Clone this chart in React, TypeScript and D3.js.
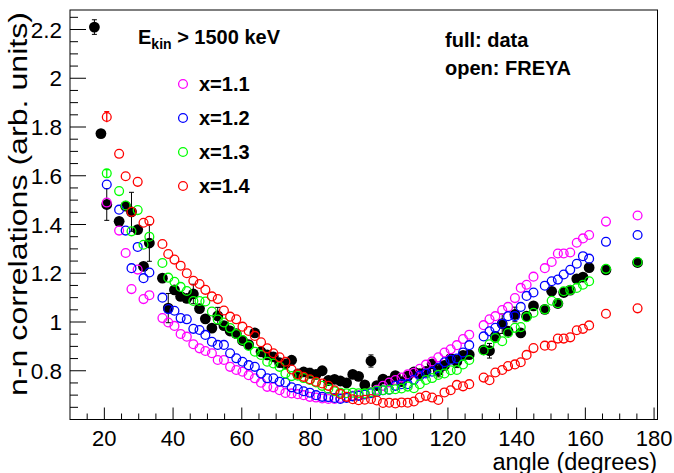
import React from 'react';
import * as d3 from 'd3';

// ---------- data ----------
const ANGLES = [
  20.7, 24.3, 26.2, 27.9, 29.7, 31.4, 33.1,
  36.9, 38.6, 40.4, 42.2, 44.0, 45.9, 47.7, 49.4, 51.3, 53.0,
  54.8, 56.6, 58.4, 60.2, 62.0, 63.8, 65.6, 67.4, 69.2, 71.0,
  72.7, 74.5, 76.3, 78.0, 79.8, 81.6, 83.4, 85.2, 87.0, 88.7,
  90.5, 92.3, 94.0, 95.8, 97.6, 99.3, 101.1, 102.9, 104.7, 106.5,
  108.3, 110.1, 111.8, 113.6, 115.4, 117.2, 119.0, 120.8, 122.6, 124.4,
  126.2,
  130.4, 132.1, 133.8, 135.8, 137.5, 139.5, 141.2, 142.9, 144.9,
  148.2, 150.2, 152.0, 153.7, 155.6, 157.5, 159.3, 161.1,
  166.0, 175.2,
];

const FREYA_X11 = [
  1.49, 1.375, 1.283, 1.135, 1.215, 1.094, 1.11,
  1.016, 0.998, 0.984, 0.951, 0.94, 0.909, 0.892, 0.881, 0.872, 0.844,
  0.844, 0.816, 0.803, 0.796, 0.782, 0.769, 0.751, 0.734, 0.732, 0.72,
  0.709, 0.707, 0.704, 0.7, 0.693, 0.69, 0.686, 0.684, 0.684, 0.688,
  0.692, 0.697, 0.7, 0.705, 0.712, 0.722, 0.738, 0.752, 0.762, 0.772,
  0.785, 0.792, 0.808, 0.825, 0.838, 0.855, 0.875, 0.888, 0.905, 0.93,
  0.948,
  0.987, 1.011, 1.024, 1.049, 1.062, 1.098, 1.14, 1.153, 1.186,
  1.221, 1.246, 1.281, 1.281, 1.285, 1.325, 1.343, 1.357,
  1.412, 1.437,
];

const FREYA_X12 = [
  1.564, 1.461, 1.375, 1.221, 1.308, 1.18, 1.203,
  1.1, 1.053, 1.046, 1.016, 1.011, 0.972, 0.967, 0.947, 0.919, 0.906,
  0.906, 0.872, 0.851, 0.837, 0.823, 0.816, 0.789, 0.769, 0.769, 0.755,
  0.752, 0.732, 0.725, 0.716, 0.71, 0.7, 0.693, 0.692, 0.688, 0.684,
  0.688, 0.695, 0.697, 0.703, 0.708, 0.713, 0.72, 0.722, 0.738, 0.745,
  0.745, 0.763, 0.78, 0.789, 0.796, 0.812, 0.835, 0.845, 0.85, 0.875,
  0.905,
  0.941, 0.962, 0.976, 0.993, 1.024, 1.024, 1.062, 1.107, 1.121,
  1.149, 1.167, 1.174, 1.195, 1.214, 1.239, 1.27, 1.26,
  1.329, 1.357,
];

const FREYA_X13 = [
  1.61, 1.537, 1.478, 1.372, 1.459, 1.317, 1.35,
  1.242, 1.182, 1.165, 1.144, 1.127, 1.086, 1.086, 1.084, 1.043, 1.01,
  0.998, 0.975, 0.951, 0.926, 0.902, 0.878, 0.865, 0.837, 0.83, 0.816,
  0.789, 0.778, 0.78, 0.77, 0.762, 0.752, 0.738, 0.726, 0.716, 0.71,
  0.708, 0.71, 0.708, 0.707, 0.712, 0.718, 0.72, 0.722, 0.724, 0.727,
  0.735, 0.728, 0.745, 0.762, 0.77, 0.783, 0.789, 0.802, 0.803, 0.826,
  0.844,
  0.883, 0.909, 0.934, 0.921, 0.955, 0.976, 0.979, 1.02, 1.038,
  1.052, 1.087, 1.077, 1.126, 1.131, 1.14, 1.153, 1.167,
  1.218, 1.246,
];

const FREYA_X14 = [
  1.841, 1.69, 1.598, 1.452, 1.575, 1.407, 1.415,
  1.32, 1.279, 1.256, 1.231, 1.2, 1.169, 1.156, 1.132, 1.105, 1.094,
  1.047, 1.022, 1.011, 0.981, 0.963, 0.943, 0.917, 0.892, 0.872, 0.855,
  0.837, 0.805, 0.785, 0.775, 0.765, 0.755, 0.748, 0.738, 0.72, 0.705,
  0.693, 0.683, 0.679, 0.681, 0.684, 0.678, 0.668, 0.669, 0.666, 0.67,
  0.669, 0.674, 0.69, 0.697, 0.69, 0.68, 0.711, 0.72, 0.742, 0.736,
  0.745,
  0.772, 0.761, 0.793, 0.803, 0.819, 0.826, 0.835, 0.865, 0.893,
  0.903, 0.903, 0.932, 0.932, 0.937, 0.966, 0.972, 0.986,
  1.034, 1.056,
];

// error on the first (smallest-angle) FREYA point of each series
const FREYA_FIRST_ERR = [0.0, 0.0, 0.015, 0.022];

const DATA_ANGLES = [17.1, 19.0, ...ANGLES];

const DATA_VALUES = [
  2.21, 1.773,
  1.482, 1.413, 1.475, 1.452, 1.379, 1.228, 1.324,
  1.18, 1.057, 1.132, 1.105, 1.097, 1.115, 1.055, 1.013, 0.975, 1.025,
  0.985, 0.963, 0.952, 0.924, 0.907, 0.955, 0.878, 0.865, 0.857, 0.833,
  0.828, 0.843, 0.787, 0.795, 0.79, 0.785, 0.8, 0.76, 0.765, 0.758,
  0.75, 0.785, 0.777, 0.742, 0.84, 0.739, 0.766, 0.757, 0.78, 0.755,
  0.778, 0.795, 0.788, 0.797, 0.828, 0.8, 0.822, 0.851, 0.838, 0.863,
  0.866,
  0.886, 0.882, 0.941, 0.993, 0.962, 1.031, 0.955, 1.024, 1.066,
  1.052, 1.126, 1.076, 1.121, 1.131, 1.177, 1.184, 1.223,
  1.214, 1.244,
];

const DATA_ERRORS = [
  0.03, 0.01,
  0.065, 0.01, 0.01, 0.08, 0.01, 0.01, 0.075,
  0.01, 0.06, 0.01, 0.01, 0.01, 0.04, 0.01, 0.01, 0.01, 0.035,
  0.01, 0.01, 0.01, 0.01, 0.01, 0.01, 0.01, 0.01, 0.01, 0.01,
  0.01, 0.01, 0.01, 0.01, 0.02, 0.01, 0.01, 0.01, 0.01, 0.01,
  0.01, 0.01, 0.01, 0.01, 0.025, 0.01, 0.01, 0.01, 0.01, 0.01,
  0.01, 0.01, 0.01, 0.01, 0.01, 0.025, 0.01, 0.01, 0.025, 0.01,
  0.01,
  0.01, 0.03, 0.01, 0.04, 0.01, 0.03, 0.01, 0.01, 0.01,
  0.01, 0.01, 0.01, 0.01, 0.01, 0.01, 0.01, 0.01,
  0.01, 0.01,
];

const SERIES_NAMES = ['x=1.1', 'x=1.2', 'x=1.3', 'x=1.4'];
const SERIES_VALUES = [FREYA_X11, FREYA_X12, FREYA_X13, FREYA_X14];
const SERIES_COLORS = ['#ff00ff', '#0000ff', '#00ff00', '#ff0000'];

const X_TICKS = [20, 40, 60, 80, 100, 120, 140, 160, 180];
const Y_TICKS = [0.8, 1, 1.2, 1.4, 1.6, 1.8, 2, 2.2];
const Y_TICK_LABELS = ['0.8', '1', '1.2', '1.4', '1.6', '1.8', '2', '2.2'];

const FONT = '"Liberation Sans", Arial, Helvetica, sans-serif';

export default function App() {
  const W = 674;
  const H = 473;
  const L = 70, R = 657.5, T = 10, B = 419.5;
  const x = d3.scaleLinear().domain([10, 181]).range([L, R]);
  const y = d3.scaleLinear().domain([0.6, 2.28]).range([B, T]);

  const xMinor = d3.range(3, 37).map((i) => i * 5).filter((v) => v > 10 && v <= 181);
  const yMinor = d3.range(13, 46).map((i) => +(i * 0.05).toFixed(2));

  return (
    <svg
      width={W}
      height={H}
      style={{ position: 'absolute', left: 0, top: 0, background: '#fff' }}
      fontFamily={FONT}
    >
      <rect x={0} y={0} width={W} height={H} fill="#fff" />

      {/* x ticks */}
      {xMinor.map((v) => (
        <line
          key={'xm' + v}
          x1={x(v)}
          x2={x(v)}
          y1={B}
          y2={B - (v % 20 === 0 ? 12 : 6)}
          stroke="#000"
          strokeWidth={1}
        />
      ))}
      {/* y ticks */}
      {yMinor.map((v) => {
        const major = Math.abs(v * 5 - Math.round(v * 5)) < 1e-6;
        return (
          <line
            key={'ym' + v}
            x1={L}
            x2={L + (major ? 16 : 8)}
            y1={y(v)}
            y2={y(v)}
            stroke="#000"
            strokeWidth={1}
          />
        );
      })}

      {/* tick labels */}
      {X_TICKS.map((v) => (
        <text key={'xl' + v} x={x(v)} y={445.5} fontSize={22} textAnchor="middle" fill="#000">
          {v}
        </text>
      ))}
      {Y_TICKS.map((v, i) => (
        <text key={'yl' + v} x={62} y={y(v) + 8} fontSize={22.5} textAnchor="end" fill="#000">
          {Y_TICK_LABELS[i]}
        </text>
      ))}

      {/* axis titles */}
      <text x={657} y={469.5} fontSize={23.5} textAnchor="end" fill="#000">
        angle (degrees)
      </text>
      <text
        transform={`translate(27, 12) rotate(-90)`}
        fontSize={25}
        textAnchor="end"
        textLength={384}
        lengthAdjust="spacingAndGlyphs"
        fill="#000"
      >
        n-n correlations (arb. units)
      </text>

      {/* data error bars */}
      {DATA_ANGLES.map((a, i) => {
        const v = DATA_VALUES[i];
        const e = DATA_ERRORS[i];
        const cx = x(a);
        return (
          <g key={'de' + i} stroke="#000" strokeWidth={1}>
            <line x1={cx} x2={cx} y1={y(v - e)} y2={y(v + e)} />
            <line x1={cx - 2.5} x2={cx + 2.5} y1={y(v - e)} y2={y(v - e)} />
            <line x1={cx - 2.5} x2={cx + 2.5} y1={y(v + e)} y2={y(v + e)} />
          </g>
        );
      })}
      {/* data points */}
      {DATA_ANGLES.map((a, i) => (
        <circle key={'dp' + i} cx={x(a)} cy={y(DATA_VALUES[i])} r={5.4} fill="#000" />
      ))}

      {/* FREYA series */}
      {SERIES_VALUES.map((vals, s) => (
        <g key={'s' + s} stroke={SERIES_COLORS[s]} fill="none" strokeWidth={1.3}>
          {FREYA_FIRST_ERR[s] > 0 && (
            <g>
              <line
                x1={x(ANGLES[0])}
                x2={x(ANGLES[0])}
                y1={y(vals[0] - FREYA_FIRST_ERR[s])}
                y2={y(vals[0] + FREYA_FIRST_ERR[s])}
              />
              <line
                x1={x(ANGLES[0]) - 2.5}
                x2={x(ANGLES[0]) + 2.5}
                y1={y(vals[0] + FREYA_FIRST_ERR[s])}
                y2={y(vals[0] + FREYA_FIRST_ERR[s])}
              />
            </g>
          )}
          {ANGLES.map((a, i) => (
            <circle key={i} cx={x(a)} cy={y(vals[i])} r={4.4} />
          ))}
        </g>
      ))}

      {/* frame */}
      <rect x={L} y={T} width={R - L} height={B - T} fill="none" stroke="#000" strokeWidth={1} />

      {/* annotations */}
      <text x={138} y={44} fontSize={20} fontWeight="bold" fill="#000">
        E
        <tspan fontSize={14} dy={5}>kin</tspan>
        <tspan dy={-5}> &gt; 1500 keV</tspan>
      </text>
      <text x={445} y={47} fontSize={20} fontWeight="bold" fill="#000">
        full: data
      </text>
      <text x={445} y={75} fontSize={20} fontWeight="bold" fill="#000">
        open: FREYA
      </text>

      {/* legend */}
      {SERIES_NAMES.map((n, i) => {
        const ly = 84 + i * 34;
        return (
          <g key={'lg' + i}>
            <circle cx={183} cy={ly} r={4.4} fill="none" stroke={SERIES_COLORS[i]} strokeWidth={1.3} />
            <text x={199} y={ly + 7} fontSize={20} fontWeight="bold" fill="#000">
              {n}
            </text>
          </g>
        );
      })}
    </svg>
  );
}
